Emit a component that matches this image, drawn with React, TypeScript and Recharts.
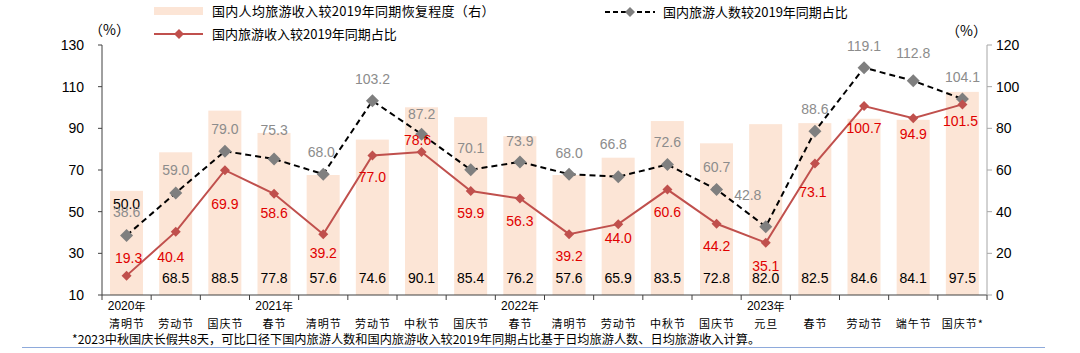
import React from "react";
import { ComposedChart, Bar, Line, XAxis, YAxis } from "recharts";

const years = ["2020年", "", "", "2021年", "", "", "", "", "2022年", "", "", "", "", "2023年", "", "", "", ""];
const holidays = ["清明节", "劳动节", "国庆节", "春节", "清明节", "劳动节", "中秋节", "国庆节", "春节", "清明节", "劳动节", "中秋节", "国庆节", "元旦", "春节", "劳动节", "端午节", "国庆节*"];
const spendRecovery = [50.0, 68.5, 88.5, 77.8, 57.6, 74.6, 90.1, 85.4, 76.2, 57.6, 65.9, 83.5, 72.8, 82.0, 82.5, 84.6, 84.1, 97.5];
const tripsShare = [38.6, 59.0, 79.0, 75.3, 68.0, 103.2, 87.2, 70.1, 73.9, 68.0, 66.8, 72.6, 60.7, 42.8, 88.6, 119.1, 112.8, 104.1];
const revenueShare = [19.3, 40.4, 69.9, 58.6, 39.2, 77.0, 78.6, 59.9, 56.3, 39.2, 44.0, 60.6, 44.2, 35.1, 73.1, 100.7, 94.9, 101.5];
const leftTicks = [10, 30, 50, 70, 90, 110, 130];
const rightTicks = [0, 20, 40, 60, 80, 100, 120];

// label nudges (px)
const grayDy = [-23, -23, -22, -29, -22, -22, -20, -22, -21, -21, -33, -23, -22, -32, -22, -22, -28, -22];
const grayDx = [0, 0, 0, 0, -2, 0, 0, 0, 0, 0, -5, 0, 0, -18, 0, 0, 0, 0];
const redDy = [-18, 25, 34, 19, 19, 22, -12, 22, 22, 22, 14, 22, 22, 23, 28, 22, 16, 17];
const redDx = [2, -5, 0, 0, 0, 0, -4, 0, 0, 0, 0, 0, 0, 0, -2, 0, 0, -2];

const data = holidays.map((h, i) => ({
  name: h,
  year: years[i],
  bar: spendRecovery[i],
  gray: tripsShare[i],
  red: revenueShare[i],
}));

const W = 1080;
const H = 353;
const LEFT_W = 102;
const RIGHT_W = 60;
const RIGHT_M = 33;
const BAND = (W - LEFT_W - RIGHT_W - RIGHT_M) / holidays.length;

const NUM_FONT = "'Liberation Sans', Arial, sans-serif";
const CJK_FONT = "'Noto Sans CJK SC', sans-serif";

const BAR_FILL = "#FCE5D6";
const RED = "#C0504D";
const RED_TEXT = "#E00000";
const GRAY = "#7F7F7F";
const GRAY_TEXT = "#8C8C8C";

function diamond(cx: number, cy: number, r: number) {
  return `${cx},${cy - r} ${cx + r},${cy} ${cx},${cy + r} ${cx - r},${cy}`;
}

const GrayDot = (p: any) => {
  const { cx, cy, index, value } = p;
  if (cx == null || cy == null) return <g key={`g${index}`} />;
  return (
    <g key={`g${index}`}>
      <polygon points={diamond(cx, cy, 6.5)} fill={GRAY} />
      <text x={cx + grayDx[index]} y={cy + grayDy[index]} textAnchor="middle" dominantBaseline="central"
        fontSize={14} fontFamily={NUM_FONT} fill={GRAY_TEXT}>
        {Number(value).toFixed(1)}
      </text>
    </g>
  );
};

const RedDot = (p: any) => {
  const { cx, cy, index, value } = p;
  if (cx == null || cy == null) return <g key={`r${index}`} />;
  return (
    <g key={`r${index}`}>
      <polygon points={diamond(cx, cy, 5)} fill={RED} />
      <text x={cx + redDx[index]} y={cy + redDy[index]} textAnchor="middle" dominantBaseline="central"
        fontSize={14} fontFamily={NUM_FONT} fill={RED_TEXT}>
        {Number(value).toFixed(1)}
      </text>
    </g>
  );
};

const BarShape = (p: any) => {
  const { x, y, width, height, index } = p;
  const v = spendRecovery[index];
  // first bar keeps its label near the top, the rest sit at the bottom
  const ly = index === 0 ? y + 13 : y + height - 17;
  return (
    <g>
      <rect x={x} y={y} width={width} height={height} fill={BAR_FILL} />
      <text x={x + width / 2} y={ly} textAnchor="middle" dominantBaseline="central"
        fontSize={14} fontFamily={NUM_FONT} fill="#000">
        {v.toFixed(1)}
      </text>
    </g>
  );
};

const CatTick = (p: any) => {
  const { x, y, payload } = p;
  const i = payload.index;
  const d = data[i];
  return (
    <g>
      <line x1={x - BAND / 2} y1={y} x2={x - BAND / 2} y2={y + 5} stroke="#404040" />
      {i === holidays.length - 1 && (
        <line x1={x + BAND / 2} y1={y} x2={x + BAND / 2} y2={y + 5} stroke="#404040" />
      )}
      {d.year && (
        <text x={x} y={y + 11} textAnchor="middle" dominantBaseline="central" fontSize={12} fill="#000">
          <tspan fontFamily={NUM_FONT}>{d.year.replace("年", "")}</tspan>
          <tspan fontFamily={CJK_FONT} fontSize={11}>年</tspan>
        </text>
      )}
      <text x={x + 0.5} y={y + 28} textAnchor="middle" dominantBaseline="central" fontSize={11}
        fontFamily={CJK_FONT} letterSpacing={1} fill="#000">
        {d.name}
      </text>
    </g>
  );
};

const legendText: React.CSSProperties = {
  position: "absolute",
  fontFamily: CJK_FONT,
  fontSize: 13,
  color: "#000",
  lineHeight: "16px",
  whiteSpace: "nowrap",
};

export default function App() {
  return (
    <div style={{ position: "absolute", left: 0, top: 0, width: W, height: H, background: "#fff" }}>
      {/* legend */}
      <div style={{ position: "absolute", left: 154, top: 7, width: 49, height: 8, background: BAR_FILL }} />
      <div style={{ ...legendText, left: 212, top: 3, letterSpacing: 0.3 }}>国内人均旅游收入较2019年同期恢复程度（右）</div>
      <svg style={{ position: "absolute", left: 150, top: 26 }} width={60} height={16}>
        <line x1={4} y1={8} x2={53} y2={8} stroke={RED} strokeWidth={2} />
        <polygon points={diamond(29, 8, 5)} fill={RED} />
      </svg>
      <div style={{ ...legendText, left: 212, top: 26 }}>国内旅游收入较2019年同期占比</div>
      <svg style={{ position: "absolute", left: 600, top: 4 }} width={60} height={16}>
        <line x1={5} y1={8} x2={55} y2={8} stroke="#000" strokeWidth={2} strokeDasharray="5 3" />
        <polygon points={diamond(30, 8, 5)} fill={GRAY} />
      </svg>
      <div style={{ ...legendText, left: 663, top: 4 }}>国内旅游人数较2019年同期占比</div>

      <div style={{ ...legendText, left: 89, top: 21, fontSize: 14 }}>（%）</div>
      <div style={{ ...legendText, left: 946, top: 22, fontSize: 14 }}>（%）</div>

      <div style={{ position: "absolute", left: 0, top: 0 }}>
        <ComposedChart width={W} height={H} data={data}
          margin={{ top: 45, right: RIGHT_M, bottom: 0, left: 0 }}>
          <XAxis dataKey="name" height={58} interval={0} tickLine={false} tickSize={0} tickMargin={0}
            axisLine={{ stroke: "#404040" }} tick={<CatTick />} />
          <YAxis yAxisId="left" width={LEFT_W} domain={[10, 130]} ticks={leftTicks} interval={0}
            tickSize={4} tickMargin={14}
            axisLine={{ stroke: "#404040" }} tickLine={{ stroke: "#404040" }}
            tick={{ fill: "#000", fontSize: 14, fontFamily: NUM_FONT }} />
          <YAxis yAxisId="right" orientation="right" width={RIGHT_W} domain={[0, 120]} ticks={rightTicks}
            interval={0} tickSize={5} tickMargin={4}
            axisLine={{ stroke: "#A6A6A6" }} tickLine={{ stroke: "#A6A6A6" }}
            tick={{ fill: "#000", fontSize: 14, fontFamily: NUM_FONT, textAnchor: "start" }} />
          <Bar yAxisId="right" dataKey="bar" barSize={33} fill={BAR_FILL} shape={<BarShape />}
            isAnimationActive={false} />
          <Line yAxisId="left" dataKey="gray" type="linear" stroke="#000" strokeWidth={2}
            strokeDasharray="6 4" dot={GrayDot} activeDot={false} isAnimationActive={false} />
          <Line yAxisId="left" dataKey="red" type="linear" stroke={RED} strokeWidth={2}
            dot={RedDot} activeDot={false} isAnimationActive={false} />
        </ComposedChart>
      </div>

      <div style={{ ...legendText, left: 72, top: 331, fontSize: 12.2 }}>
        *2023中秋国庆长假共8天，可比口径下国内旅游人数和国内旅游收入较2019年同期占比基于日均旅游人数、日均旅游收入计算。
      </div>
      <div style={{ position: "absolute", left: 22, top: 347, width: 1023, height: 1, background: "#8EAADB" }} />
    </div>
  );
}
